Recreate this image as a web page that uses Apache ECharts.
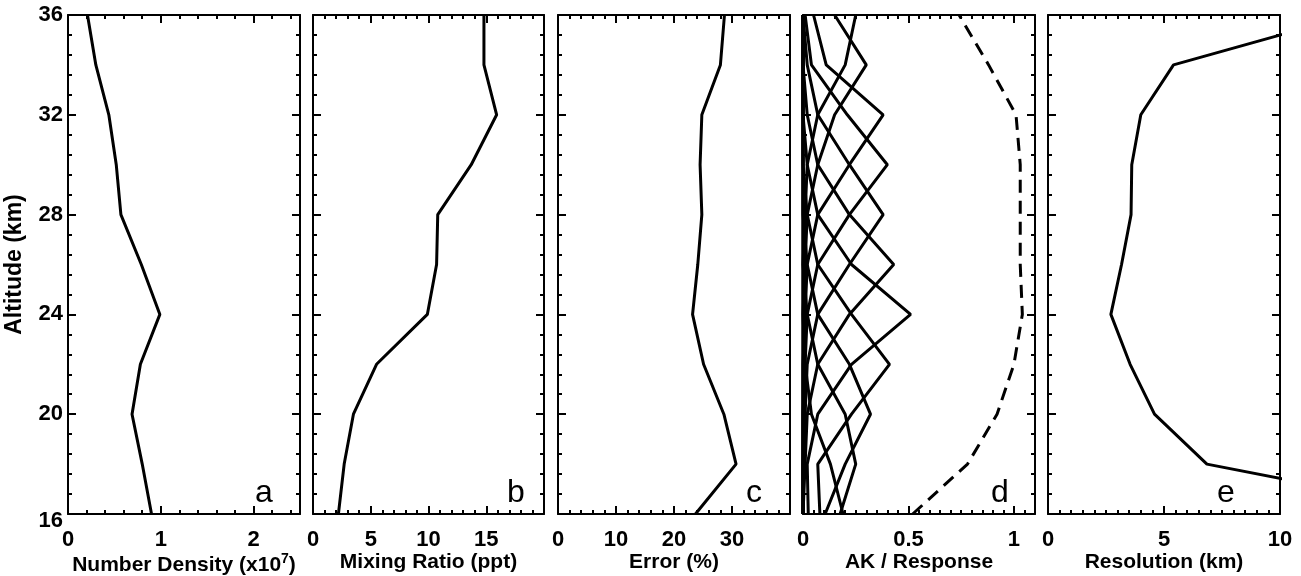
<!DOCTYPE html>
<html>
<head>
<meta charset="utf-8">
<script src="https://cdn.jsdelivr.net/npm/echarts@6/dist/echarts.min.js"></script>
<style>
  html, body { margin: 0; padding: 0; background: #fff; }
  #chart { width: 1301px; height: 576px; }
</style>
</head>
<body>
<div id="chart"></div>
<script>
// altitude levels (km)
var alt = [16, 18, 20, 22, 24, 26, 28, 30, 32, 34, 36];

// panel a-e profiles, one value per altitude
var numberDensity = [0.90, 0.80, 0.69, 0.78, 0.99, 0.79, 0.57, 0.52, 0.44, 0.30, 0.21];
var mixingRatio   = [2.2, 2.7, 3.5, 5.5, 9.9, 10.7, 10.8, 13.7, 15.9, 14.8, 14.8];
var errorPct      = [23.7, 30.7, 28.6, 25.1, 23.2, 24.1, 24.8, 24.5, 24.8, 28.0, 28.7];
var response      = [0.52, 0.78, 0.92, 1.00, 1.04, 1.03, 1.03, 1.03, 1.01, 0.88, 0.74];
var resolution    = [17.9, 6.85, 4.59, 3.54, 2.71, 3.17, 3.58, 3.61, 4.0, 5.41, 13.1];

// averaging kernels, one row per retrieval level, values at alt[]
var ak16 = [0.19, 0.13, 0.04, 0.01, 0, 0, 0, 0, 0, 0, 0];
var ak18 = [0.176, 0.25, 0.20, 0.07, 0.02, 0, 0, 0, 0, 0, 0];
var ak20 = [0.105, 0.20, 0.32, 0.22, 0.07, 0.02, 0, 0, 0, 0, 0];
var ak22 = [0.08, 0.07, 0.23, 0.41, 0.23, 0.07, 0.02, 0, 0, 0, 0];
var ak24 = [0.025, 0.02, 0.07, 0.23, 0.51, 0.23, 0.07, 0.02, 0, 0, 0];
var ak26 = [0, 0.01, 0.02, 0.07, 0.22, 0.43, 0.22, 0.07, 0.02, 0, 0];
var ak28 = [0, 0, 0.01, 0.02, 0.07, 0.22, 0.38, 0.22, 0.07, 0.02, 0];
var ak30 = [0, 0, 0, 0.01, 0.02, 0.07, 0.22, 0.40, 0.21, 0.04, 0.01];
var ak32 = [0, 0, 0, 0, 0.01, 0.02, 0.07, 0.22, 0.38, 0.11, 0.05];
var ak34 = [0, 0, 0, 0, 0, 0.01, 0.02, 0.07, 0.15, 0.30, 0.15];
var ak36 = [0, 0, 0, 0, 0, 0, 0.01, 0.02, 0.07, 0.20, 0.25];
var akRows = [ak16, ak18, ak20, ak22, ak24, ak26, ak28, ak30, ak32, ak34, ak36];

var xTitles = ['Number Density (x10{sup|7})', 'Mixing Ratio (ppt)', 'Error (%)', 'AK / Response', 'Resolution (km)'];
var xMax = [2.5, 20, 40, 1.1, 10];
var xStep = [1, 5, 10, 0.5, 5];
var xMinor = [5, 5, 5, 10, 10];
var letters = ['a', 'b', 'c', 'd', 'e'];
var letterX = [255, 507, 746, 991, 1217];

var font = '"Liberation Sans", Arial, sans-serif';
var panelLeft = [68, 313, 558, 803, 1048];
var panelWidth = [232, 231, 232, 232, 232];

function pairs(xs) {
    var out = [];
    for (var i = 0; i < alt.length; i++) out.push([xs[i], alt[i]]);
    return out;
}

var grids = [], xAxes = [], yAxes = [], series = [], graphics = [];

for (var p = 0; p < 5; p++) {
    grids.push({ left: panelLeft[p], top: 15, width: panelWidth[p], height: 499, outerBoundsMode: 'none' });
    var lineSt = { onZero: false, lineStyle: { color: '#000', width: 2 } };
    var tickSt = { show: true, inside: true, length: 8, lineStyle: { color: '#000', width: 2 } };
    var minorSt = { show: true, splitNumber: xMinor[p], length: 4, lineStyle: { color: '#000', width: 2 } };
    // bottom x axis with labels
    xAxes.push({
        type: 'value', gridIndex: p, position: 'bottom', min: 0, max: xMax[p], interval: xStep[p],
        axisLine: lineSt, axisTick: tickSt, minorTick: minorSt, splitLine: { show: false },
        axisLabel: { show: true, color: '#000', fontFamily: font, fontWeight: 'bold', fontSize: 22, margin: 15,
                     showMaxLabel: p === 4 },
        name: xTitles[p], nameLocation: 'middle', nameGap: 38, nameMoveOverlap: false,
        nameTextStyle: { color: '#000', fontFamily: font, fontWeight: 'bold', fontSize: 21,
                         rich: { sup: { fontFamily: font, fontWeight: 'bold', fontSize: 14, padding: [0, 0, 12, 0] } } }
    });
    // top x axis, ticks only
    xAxes.push({
        type: 'value', gridIndex: p, position: 'top', min: 0, max: xMax[p], interval: xStep[p],
        axisLine: lineSt, axisTick: tickSt, minorTick: minorSt, splitLine: { show: false },
        axisLabel: { show: false }
    });
    var yMinor = { show: true, splitNumber: 5, length: 4, lineStyle: { color: '#000', width: 2 } };
    yAxes.push({
        type: 'value', gridIndex: p, position: 'left', min: 16, max: 36, interval: 4,
        axisLine: lineSt, axisTick: tickSt, minorTick: yMinor, splitLine: { show: false },
        axisLabel: {
            show: p === 0, color: '#000', fontFamily: font, fontWeight: 'bold', fontSize: 22, margin: 5,
            formatter: function (v) { return v === 16 ? '{low|16}' : String(v); },
            rich: { low: { fontFamily: font, fontWeight: 'bold', fontSize: 22, padding: [14, 0, 0, 0] } }
        },
        name: p === 0 ? 'Altitude (km)' : '', nameLocation: 'middle', nameGap: 42, nameMoveOverlap: false,
        nameTextStyle: { color: '#000', fontFamily: font, fontWeight: 'bold', fontSize: 23 }
    });
    yAxes.push({
        type: 'value', gridIndex: p, position: 'right', min: 16, max: 36, interval: 4,
        axisLine: lineSt, axisTick: tickSt, minorTick: yMinor, splitLine: { show: false },
        axisLabel: { show: false }
    });
    graphics.push({
        type: 'text', left: letterX[p], top: 477,
        style: { text: letters[p], font: 'normal 32px ' + font, fill: '#000' }
    });
}

function addLine(p, xs, dashed) {
    series.push({
        type: 'line', xAxisIndex: p * 2, yAxisIndex: p * 2, data: pairs(xs),
        showSymbol: false, symbol: 'none', silent: true,
        lineStyle: { color: '#000', width: 3, type: dashed ? [13, 8] : 'solid' }
    });
}

addLine(0, numberDensity);
addLine(1, mixingRatio);
addLine(2, errorPct);
for (var k = 0; k < akRows.length; k++) addLine(3, akRows[k]);
addLine(3, response, true);
addLine(4, resolution);

var chart = echarts.init(document.getElementById('chart'));
chart.setOption({
    animation: false,
    backgroundColor: '#fff',
    grid: grids,
    xAxis: xAxes,
    yAxis: yAxes,
    series: series,
    graphic: graphics
});
</script>
</body>
</html>
